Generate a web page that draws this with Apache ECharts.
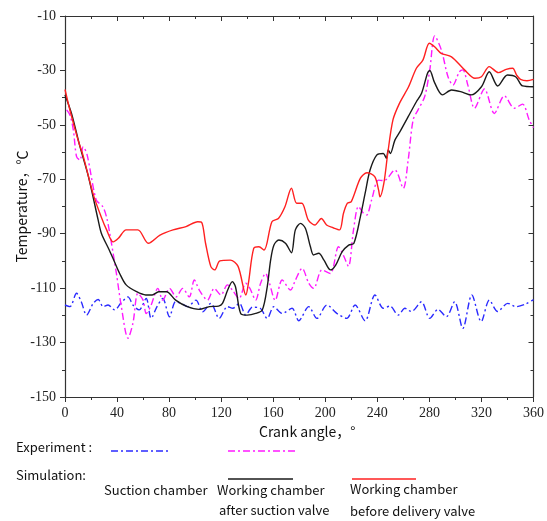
<!DOCTYPE html>
<html>
<head>
<meta charset="utf-8">
<script src="https://cdn.jsdelivr.net/npm/echarts@6/dist/echarts.min.js"></script>
<style>
  html, body { margin: 0; padding: 0; background: #fff; }
  #chart { width: 547px; height: 521px; }
</style>
</head>
<body>
<div id="chart"></div>
<script>
// axis ticks
const xTicks = [0, 40, 80, 120, 160, 200, 240, 280, 320, 360];
const yTicks = [-150, -130, -110, -90, -70, -50, -30, -10];

// experiment, suction chamber (blue dash-dot)
const blueAngle = [0, 3.8, 8.9, 12.5, 16.6, 21.7, 25.5, 29.3, 33.1, 38.2, 43, 48.4, 52.2, 57, 62.4, 66.2, 70.5, 75.1, 80.3, 85, 90, 94.2, 100.6, 105.7, 112.1, 118.5, 124.8, 129, 134, 138.9, 144, 150, 155.4, 160.5, 166.9, 174.5, 179.6, 187.3, 193.6, 201.3, 208.9, 216.5, 222.9, 230.6, 238.2, 244.6, 249.7, 256.1, 261.2, 266.2, 273.9, 280.3, 286.6, 293, 299.4, 305.7, 312.6, 319.8, 326.1, 332.5, 340.2, 346.5, 354.1, 360];
const blueTemp = [-116.2, -116.8, -111.9, -115, -119.9, -115.6, -114.2, -116.8, -116.2, -118, -115.5, -113.2, -116.2, -118, -113.8, -121.1, -117, -113.8, -120.5, -115, -115.8, -116.8, -114.4, -118.7, -115.6, -121.1, -116.8, -117.4, -115.6, -119.9, -117, -117.4, -121.1, -116.8, -119.3, -117.4, -122, -116.8, -121.1, -116.2, -119.3, -121.1, -116.2, -122, -112.5, -117.4, -116.6, -119.9, -117.4, -118.6, -115, -121.1, -117.8, -120.5, -115, -124.8, -112.5, -122.3, -114.4, -118.6, -115.6, -116.8, -115.8, -114.2];

// experiment, working chamber (magenta dash-dot)
const pinkAngle = [1.3, 3.8, 6.4, 8.9, 11.5, 14, 17, 24, 29, 32, 34.4, 39.5, 43.3, 48.4, 52.2, 56, 60, 62.4, 66.2, 71.3, 75.1, 80.3, 85.4, 90.4, 95.5, 99.4, 103.2, 109.5, 114.7, 119.8, 124.8, 128.6, 133.8, 138.9, 142, 146.5, 150.3, 154.1, 157, 161.5, 166.9, 173.3, 177.1, 182.2, 187.3, 191.1, 197.4, 203.9, 210.2, 214, 217.8, 221.7, 225.5, 229.3, 231.8, 235.6, 240.8, 245, 253.5, 259.9, 263.7, 267.5, 271.3, 276.4, 280.3, 284.1, 289.2, 294.3, 298.1, 303, 305.7, 309.6, 314.7, 322.3, 329.9, 337.6, 345.3, 351.6, 356.7, 360];
const pinkTemp = [-44.5, -46.4, -51.9, -61.7, -62.9, -58, -61, -77.6, -80, -84, -89.9, -104.6, -116.8, -128.4, -122.9, -111.9, -114.4, -119.3, -116.2, -110.1, -114.4, -110.1, -113.2, -110.1, -113.2, -107, -110.7, -114.4, -110.1, -112.5, -108.8, -110.7, -113.8, -108.2, -110, -114.4, -108.2, -104.6, -108, -114.5, -107, -110.7, -107, -102.7, -108.2, -110.1, -103.3, -104.6, -94.8, -98, -102, -88.6, -80, -82.5, -83.1, -77.6, -70.3, -70.5, -66.6, -73.3, -62.9, -48.2, -44.5, -39.6, -29.8, -17.3, -22.5, -32.3, -35.4, -30.5, -29.8, -35.5, -43.9, -36.8, -45.8, -39.3, -43.9, -42.4, -48.2, -51];

// simulation, working chamber after suction valve (black)
const blackAngle = [0, 5, 11.5, 18, 25.5, 28, 34, 38, 42, 47, 55, 62, 67, 72, 78, 85, 94, 103, 111, 118, 121, 125, 128.6, 131, 135, 140, 146.5, 151.6, 155.4, 158, 160.5, 164.3, 169.4, 174, 177, 181, 184.7, 188.6, 191, 195, 199, 204, 208, 213, 218, 222, 227, 230.6, 234.4, 239.5, 244.6, 247, 248.4, 250, 253.5, 257.4, 263.7, 270, 274, 278.5, 280.3, 284, 290, 297, 304, 312, 320, 326, 332.5, 340, 346.5, 351.6, 360];
const blackTemp = [-39, -45.8, -58, -69, -85, -89.9, -96, -100.3, -104.6, -108.8, -111.3, -112.5, -112.5, -111.3, -111.3, -114.4, -116.8, -117.8, -116.8, -116.6, -115.6, -110.7, -107.6, -109.5, -119.3, -119.9, -119.3, -118, -109.5, -99.7, -94.2, -92.3, -93.5, -97, -88.6, -86.2, -88, -94.8, -97.8, -97.2, -99.7, -103.3, -101.5, -96.6, -94.2, -93.5, -83.7, -75.2, -66.6, -61.1, -60.5, -62.3, -59.2, -60.5, -55.6, -52.5, -47, -41.5, -38.4, -31.1, -30, -34.5, -39, -37.2, -37.8, -39, -36, -30.5, -35.7, -31.7, -32.4, -35.7, -36];

// simulation, working chamber before delivery valve (red)
const redAngle = [0, 4, 10, 14, 22, 28, 32, 37, 41, 47, 56, 64, 73, 83, 93, 102, 105, 108, 112, 115, 119, 127, 133, 139, 141, 145, 149, 153, 159, 164, 169, 174, 178, 182, 187, 192, 197, 201, 206, 211, 214, 217, 220, 227, 232, 238, 241, 242, 245, 248, 252, 257, 264, 270, 275, 280, 284, 289, 297, 307, 315, 320, 326, 333, 339, 344, 347, 350, 355, 360];
const redTemp = [-37, -45, -55.5, -61.5, -76, -84, -88.6, -93, -91.7, -88.6, -88.6, -93.5, -90.5, -88.6, -87.4, -85.6, -85.8, -93.5, -102, -103.3, -100, -99.7, -102, -112.5, -108, -95.4, -94.8, -96, -85.6, -84.4, -80.1, -73.3, -78.8, -78.8, -85, -86.8, -84.4, -86.8, -87.8, -88.6, -82.5, -78.8, -78.2, -69.6, -67.6, -69, -74, -76.4, -71.5, -60.5, -48.2, -42.1, -36, -29.2, -26.2, -20, -21.3, -23.7, -25, -29.8, -32.9, -32.3, -28.6, -30.8, -29.6, -29.2, -31.7, -33.3, -33.8, -33.3];

const labelFont = 'Noto Sans CJK SC';
const tickFont = 'Liberation Serif';
const axisColor = '#333';

const zip = (xs, ys) => xs.map((x, i) => [x, ys[i]]);

const chart = echarts.init(document.getElementById('chart'));

// common axis bits
const baseAxis = {
  type: 'value',
  splitLine: { show: false },
  axisLine: { show: true, onZero: false, lineStyle: { color: axisColor, width: 1.2 } },
  axisTick: { show: true, length: 5, lineStyle: { color: axisColor } },
  minorTick: { show: true, splitNumber: 2, length: 3, lineStyle: { color: axisColor } }
};

function lineSeries(name, xs, ys, color, dash, width) {
  return {
    name: name,
    type: 'line',
    data: zip(xs, ys),
    showSymbol: false,
    smooth: 0.3,
    lineStyle: { color: color, width: width, type: dash },
    z: 3
  };
}

const tickLabel = { color: '#222', fontFamily: tickFont, fontSize: 14, margin: 9 };

const option = {
  animation: false,
  backgroundColor: '#fff',
  textStyle: { fontFamily: tickFont },
  grid: { left: 65, right: 11, top: 16, bottom: 124 },
  xAxis: [
    Object.assign({}, baseAxis, {
      position: 'bottom',
      min: 0, max: 360, interval: 40,
      axisLabel: tickLabel,
      name: 'Crank angle，°',
      nameLocation: 'middle',
      nameGap: 28,
      nameMoveOverlap: false,
      nameTextStyle: { color: '#111', fontFamily: labelFont, fontSize: 14, padding: [0, 0, 0, 16] }
    }),
    Object.assign({}, baseAxis, {
      position: 'top',
      min: 0, max: 360, interval: 40,
      axisTick: { show: true, inside: true, length: 5, lineStyle: { color: axisColor } },
      minorTick: { show: true, splitNumber: 2, length: 3, lineStyle: { color: axisColor } },
      axisLabel: { show: false }
    })
  ],
  yAxis: [
    Object.assign({}, baseAxis, {
      position: 'left',
      min: -150, max: -10, interval: 20,
      axisLabel: tickLabel,
      name: 'Temperature，℃',
      nameLocation: 'middle',
      nameGap: 36,
      nameRotate: 90,
      nameMoveOverlap: false,
      nameTextStyle: { color: '#111', fontFamily: labelFont, fontSize: 14 }
    }),
    Object.assign({}, baseAxis, {
      position: 'right',
      min: -150, max: -10, interval: 20,
      axisTick: { show: true, inside: true, length: 5, lineStyle: { color: axisColor } },
      minorTick: { show: true, splitNumber: 2, length: 3, lineStyle: { color: axisColor } },
      axisLabel: { show: false }
    })
  ],
  series: [
    lineSeries('Suction chamber', blueAngle, blueTemp, '#2a2aff', [7, 3, 2, 3], 1.4),
    lineSeries('Working chamber (exp)', pinkAngle, pinkTemp, '#ff1aff', [7, 3, 2, 3], 1.4),
    lineSeries('Working chamber after suction valve', blackAngle, blackTemp, '#1a1a1a', 'solid', 1.4),
    lineSeries('Working chamber before delivery valve', redAngle, redTemp, '#ff2020', 'solid', 1.4)
  ],
  graphic: [
    { type: 'text', left: 16, top: 441, style: { text: 'Experiment :', font: '13px ' + labelFont, fill: '#111' } },
    { type: 'line', shape: { x1: 111, y1: 451, x2: 169, y2: 451 }, style: { stroke: '#2a2aff', lineWidth: 1.4, lineDash: [7, 3, 2, 3] } },
    { type: 'line', shape: { x1: 228, y1: 451, x2: 296, y2: 451 }, style: { stroke: '#ff1aff', lineWidth: 1.4, lineDash: [7, 3, 2, 3] } },
    { type: 'text', left: 16, top: 469, style: { text: 'Simulation:', font: '13px ' + labelFont, fill: '#111' } },
    { type: 'line', shape: { x1: 228, y1: 479, x2: 293, y2: 479 }, style: { stroke: '#1a1a1a', lineWidth: 1.6 } },
    { type: 'line', shape: { x1: 352, y1: 479, x2: 416, y2: 479 }, style: { stroke: '#ff2020', lineWidth: 1.6 } },
    { type: 'text', left: 104, top: 484, style: { text: 'Suction chamber', font: '13px ' + labelFont, fill: '#111' } },
    { type: 'text', left: 217, top: 484, style: { text: 'Working chamber', font: '13px ' + labelFont, fill: '#111' } },
    { type: 'text', left: 219, top: 504, style: { text: 'after suction valve', font: '13px ' + labelFont, fill: '#111' } },
    { type: 'text', left: 350, top: 483, style: { text: 'Working chamber', font: '13px ' + labelFont, fill: '#111' } },
    { type: 'text', left: 350, top: 505, style: { text: 'before delivery valve', font: '13px ' + labelFont, fill: '#111' } }
  ]
};

chart.setOption(option);
</script>
</body>
</html>
